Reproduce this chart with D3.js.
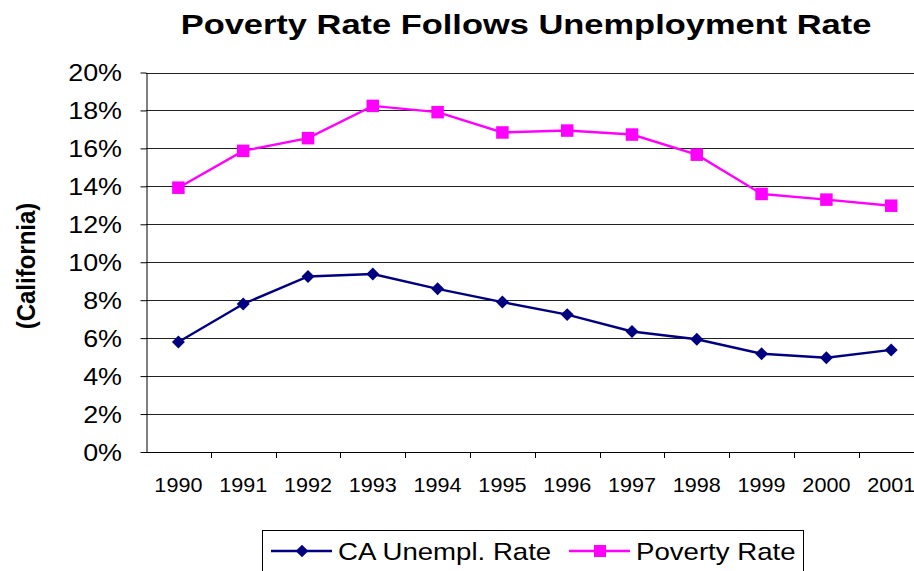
<!DOCTYPE html>
<html><head><meta charset="utf-8">
<script src="https://cdn.jsdelivr.net/npm/d3@7"></script>
<style>body{margin:0;background:#fff;}svg{display:block;font-family:"Liberation Sans",Arial,sans-serif;}</style>
</head><body>
<script>
const years = ["1990","1991","1992","1993","1994","1995","1996","1997","1998","1999","2000","2001"];
const unemployment = [5.8, 7.8, 9.25, 9.38, 8.6, 7.9, 7.24, 6.35, 5.94, 5.18, 4.97, 5.38];
const poverty = [13.93, 15.87, 16.54, 18.24, 17.91, 16.84, 16.94, 16.73, 15.67, 13.6, 13.3, 12.98];
const yTicks = [0,2,4,6,8,10,12,14,16,18,20];
const seriesNames = ["CA Unempl. Rate", "Poverty Rate"];
const colors = ["#000080", "#FF00FF"];

const W = 914, H = 571;
const svg = d3.select("body").append("svg").attr("width", W).attr("height", H);

const pLeft = 146, pRight = 923.6, pTop = 72.5, pBottom = 452;
const xBand = d3.scaleBand().domain(years).range([pLeft, pRight]).paddingInner(0).paddingOuter(0);
const x = d3.scalePoint().domain(years).range([pLeft, pRight]).padding(0.5);
const y = d3.scaleLinear().domain([0, 20]).range([pBottom, pTop]);

function stext(g, tx, ty, sx, txt, fs, anchor, weight) {
  return g.append("text")
    .attr("transform", `translate(${tx},${ty}) scale(${sx},1)`)
    .attr("text-anchor", anchor || "start")
    .attr("font-size", fs).attr("font-weight", weight || "normal")
    .attr("fill", "#000").text(txt);
}

// gridlines
svg.append("g").selectAll("line").data(yTicks.filter(d => d > 0)).join("line")
  .attr("x1", pLeft).attr("x2", pRight)
  .attr("y1", d => Math.round(y(d)) + 0.5).attr("y2", d => Math.round(y(d)) + 0.5)
  .attr("stroke", "#222").attr("stroke-width", 1);

// y axis
const yAxis = d3.axisLeft(y).tickValues(yTicks).tickFormat("").tickSize(6).tickSizeOuter(0);
const gy = svg.append("g").attr("transform", `translate(${pLeft + 0.5},0)`).call(yAxis);
gy.select(".domain").attr("stroke", "#000");
gy.selectAll(".tick line").attr("stroke", "#000");
const gyl = svg.append("g");
yTicks.forEach(t => stext(gyl, 122, y(t) + 8.5, 1.12, t + "%", 24, "end"));

// x axis line
svg.append("line").attr("x1", pLeft).attr("x2", pRight)
  .attr("y1", Math.round(pBottom) + 0.5).attr("y2", Math.round(pBottom) + 0.5).attr("stroke", "#000");
// x ticks at band boundaries
svg.append("g").selectAll("line").data(years.slice(1)).join("line")
  .attr("x1", d => Math.round(xBand(d)) + 0.5).attr("x2", d => Math.round(xBand(d)) + 0.5)
  .attr("y1", pBottom).attr("y2", pBottom + 6).attr("stroke", "#000");
const gxl = svg.append("g");
years.forEach(yr => stext(gxl, x(yr), 492, 1.03, yr, 21, "middle"));

// lines
const line = d3.line().x((d, i) => x(years[i])).y(d => y(d));
const allSeries = [unemployment, poverty];
allSeries.forEach((s, k) => {
  svg.append("path").datum(s).attr("d", line).attr("fill", "none")
    .attr("stroke", colors[k]).attr("stroke-width", 2.4);
});
// markers
svg.append("g").selectAll("path").data(unemployment).join("path")
  .attr("d", d3.symbol().type(d3.symbolSquare).size(84)())
  .attr("transform", (d, i) => `translate(${x(years[i])},${y(d)}) rotate(45)`)
  .attr("fill", colors[0]);
svg.append("g").selectAll("rect").data(poverty).join("rect")
  .attr("x", (d, i) => x(years[i]) - 6.25).attr("y", d => y(d) - 6.25)
  .attr("width", 12.5).attr("height", 12.5).attr("fill", colors[1]);

// title
stext(svg, 526, 34, 1.23, "Poverty Rate Follows Unemployment Rate", 28, "middle", "bold");

// y label
svg.append("text").attr("transform", "translate(35,266) rotate(-90) scale(1,1.1)").attr("text-anchor", "middle")
  .attr("font-size", 24).attr("font-weight", "bold").attr("fill", "#000").text("(California)");

// legend
const lg = svg.append("g");
lg.append("rect").attr("x", 262.5).attr("y", 530.5).attr("width", 541).attr("height", 50)
  .attr("fill", "#fff").attr("stroke", "#000").attr("stroke-width", 1);
const legendItems = [
  {name: seriesNames[0], color: colors[0], x0: 271, shape: "diamond"},
  {name: seriesNames[1], color: colors[1], x0: 569, shape: "square"}
];
const ly = 551;
legendItems.forEach(it => {
  lg.append("line").attr("x1", it.x0).attr("x2", it.x0 + 61).attr("y1", ly).attr("y2", ly)
    .attr("stroke", it.color).attr("stroke-width", 2.4);
  if (it.shape === "diamond") {
    lg.append("path").attr("d", d3.symbol().type(d3.symbolSquare).size(80)())
      .attr("transform", `translate(${it.x0 + 31},${ly}) rotate(45)`).attr("fill", it.color);
  } else {
    lg.append("rect").attr("x", it.x0 + 25).attr("y", ly - 6).attr("width", 12).attr("height", 12).attr("fill", it.color);
  }
  stext(lg, it.x0 + 67, ly + 9, 1.15, it.name, 24, "start");
});
</script>
</body></html>
